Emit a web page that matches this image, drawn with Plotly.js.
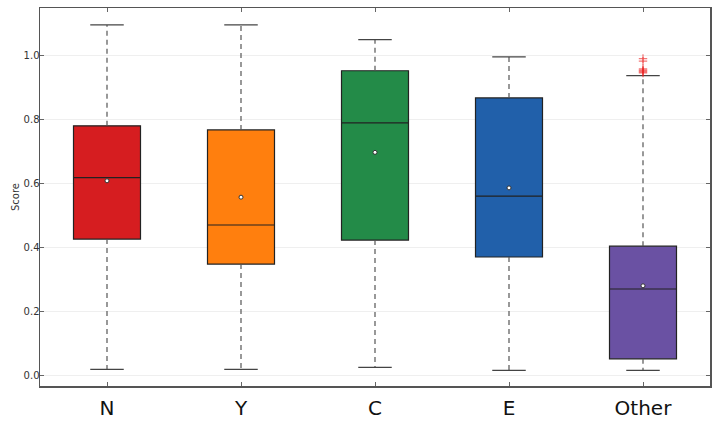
<!DOCTYPE html>
<html><head><meta charset="utf-8">
<script src="https://cdn.plot.ly/plotly-3.0.1.min.js"></script>
<style>html,body{margin:0;padding:0;background:#fff}#chart{width:720px;height:430px}</style>
</head><body><div id="chart"></div>
<script>
const categories = ["N", "Y", "C", "E", "Other"];
const lowerWhisker = [0.018, 0.018, 0.024, 0.015, 0.015];
const q1Values = [0.425, 0.347, 0.422, 0.369, 0.051];
const medianValues = [0.617, 0.469, 0.788, 0.559, 0.269];
const q3Values = [0.779, 0.766, 0.951, 0.866, 0.403];
const upperWhisker = [1.094, 1.094, 1.048, 0.994, 0.936];
const meanValues = [0.607, 0.556, 0.696, 0.585, 0.279];
const outlierCategory = [4, 4, 4, 4, 4, 4, 4];
const outlierValues = [0.989, 0.981, 0.957, 0.953, 0.950, 0.947, 0.944];
const boxColors = ["#d61d20", "#ff7f0e", "#238b48", "#2160aa", "#6a51a3"];

const traces = [];
categories.forEach((c, i) => {
  traces.push({
    type: "box", x: [i], q1: [q1Values[i]], median: [medianValues[i]], q3: [q3Values[i]],
    lowerfence: [q1Values[i]], upperfence: [q3Values[i]],
    fillcolor: boxColors[i], line: {color: "#222", width: 1.2},
    whiskerwidth: 0, width: 0.5, showlegend: false, hoverinfo: "skip"
  });
});
// dashed whiskers
const wx = [], wy = [], cx = [], cy = [];
categories.forEach((c, i) => {
  wx.push(i, i, null, i, i, null);
  wy.push(q3Values[i], upperWhisker[i], null, q1Values[i], lowerWhisker[i], null);
  cx.push(i - 0.125, i + 0.125, null, i - 0.125, i + 0.125, null);
  cy.push(upperWhisker[i], upperWhisker[i], null, lowerWhisker[i], lowerWhisker[i], null);
});
traces.push({type: "scatter", mode: "lines", x: wx, y: wy, line: {color: "#555", width: 1.2, dash: "5px,4px"}, showlegend: false, hoverinfo: "skip"});
traces.push({type: "scatter", mode: "lines", x: cx, y: cy, line: {color: "#444", width: 1.2}, showlegend: false, hoverinfo: "skip"});
traces.push({type: "scatter", mode: "markers", x: categories.map((c, i) => i), y: meanValues,
  marker: {symbol: "circle", size: 4, color: "#ffffff", line: {color: "#333", width: 1}}, showlegend: false});
traces.push({type: "scatter", mode: "markers", x: outlierCategory, y: outlierValues,
  marker: {symbol: "cross-thin-open", size: 6, color: "rgba(235,30,30,0.6)", line: {color: "rgba(235,30,30,0.6)", width: 1.2}}, showlegend: false});

const layout = {
  width: 720, height: 430,
  margin: {l: 40, r: 10, t: 8, b: 44},
  paper_bgcolor: "#fff", plot_bgcolor: "#fff",
  font: {family: "DejaVu Sans, sans-serif", color: "#333"},
  xaxis: {
    range: [-0.5, 4.5], tickvals: [0, 1, 2, 3, 4], ticktext: categories,
    tickfont: {size: 20, color: "#111"}, ticks: "inside", ticklen: 4, tickcolor: "#666",
    ticklabelstandoff: 3,
    showline: true, linecolor: "#555", linewidth: 1.5, mirror: "ticks",
    showgrid: false, zeroline: false
  },
  yaxis: {
    range: [-0.034, 1.147], tickvals: [0, 0.2, 0.4, 0.6, 0.8, 1.0], tickformat: ".1f",
    tickfont: {size: 10, color: "#333"}, ticks: "inside", ticklen: 4, tickcolor: "#666",
    ticklabelstandoff: -3,
    showline: true, linecolor: "#555", linewidth: 1.5, mirror: "ticks",
    showgrid: true, gridcolor: "#efefef", gridwidth: 1, zeroline: false,
    title: {text: "Score", font: {size: 10, color: "#333"}, standoff: 2}
  }
};
Plotly.newPlot("chart", traces, layout, {staticPlot: true});
</script></body></html>
